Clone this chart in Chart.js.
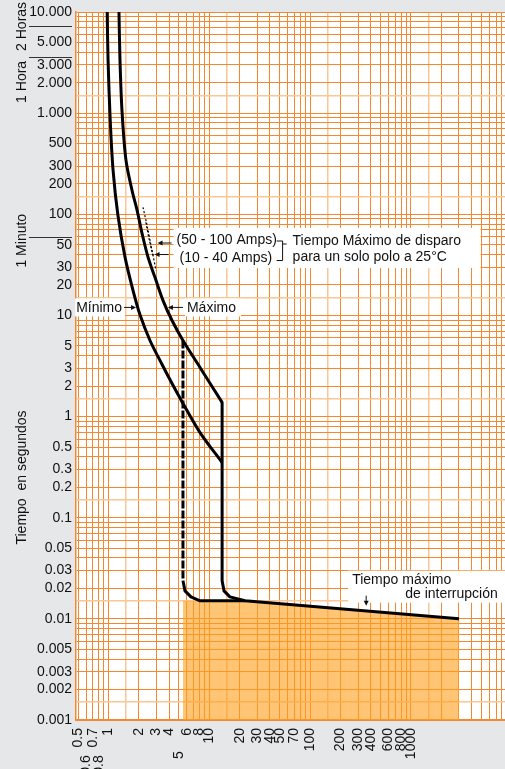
<!DOCTYPE html>
<html>
<head>
<meta charset="utf-8">
<script src="https://cdn.jsdelivr.net/npm/chart.js@4/dist/chart.umd.min.js"></script>
<style>
  html, body { margin: 0; padding: 0; background: #e6e7e9; }
</style>
</head>
<body>
<canvas id="curva" width="505" height="769"></canvas>
<script>
// Etiquetas de los ejes (Amperes x In / segundos)
const xTicks = [0.5, 0.6, 0.7, 0.8, 1, 2, 3, 4, 5, 6, 8, 10, 20, 30, 40, 50, 70, 100, 200, 300, 400, 600, 800, 1000];
const xTicksBajos = [0.6, 0.8, 5]; // van impresas mas abajo
const yTicks = [10000, 5000, 3000, 2000, 1000, 500, 300, 200, 100, 50, 30, 20, 10, 5, 3, 2, 1, 0.5, 0.3, 0.2, 0.1, 0.05, 0.03, 0.02, 0.01, 0.005, 0.003, 0.002, 0.001];
const yTicksTexto = ['10.000', '5.000', '3.000', '2.000', '1.000', '500', '300', '200', '100', '50', '30', '20', '10', '5', '3', '2', '1', '0.5', '0.3', '0.2', '0.1', '0.05', '0.03', '0.02', '0.01', '0.005', '0.003', '0.002', '0.001'];

// Curva minima
const minI = [0.97, 0.99, 1.04, 1.11, 1.24, 1.46, 1.75, 2.05, 2.58, 3.40, 4.27, 5.48, 8.09, 13.4];
const minT = [10000, 3350, 853, 273, 97.7, 37.5, 17.7, 10.2, 5.65, 3.27, 2.12, 1.35, 0.695, 0.351];

// Curva maxima (parte termica)
const maxI = [1.27, 1.30, 1.36, 1.49, 1.71, 1.92, 2.15, 2.47, 2.89, 3.47, 4.27, 5.48, 8.09, 13.4];
const maxT = [10000, 3350, 1070, 343, 173, 110, 64.9, 37.5, 23.8, 14.1, 8.91, 5.65, 3.06, 1.38];

// Curva maxima (disparo instantaneo + tiempo max. de interrupcion)
const colaI = [13.4, 13.4, 14.0, 16.0, 22.6, 3000];
const colaT = [1.38, 0.0238, 0.0189, 0.0165, 0.0151, 0.010];

// Disparo instantaneo minimo
const instI = [5.48, 5.48];
const instT = [5.65, 0.0238];
const instColaI = [5.48, 5.74, 6.58, 8.09, 22.6];
const instColaT = [0.0238, 0.0189, 0.0165, 0.0151, 0.0151];

// Tiempo maximo de disparo un solo polo
const amp50I = [2.20, 2.41, 2.64, 2.96];
const amp50T = [117, 77.9, 49.3, 27.9];
const amp10I = [2.35, 2.52, 2.76];
const amp10T = [83.4, 57.8, 39.3];

// Zona sombreada
const zonaI = [5.48, 22.6, 3000];
const zonaT = [0.0151, 0.0151, 0.010];

const naranja = 'rgb(244,136,48)';
const naranjaClaro = 'rgb(251,198,150)';
const fuente = "'Liberation Sans', Arial, Helvetica, sans-serif";

const pares = (xs, ys) => xs.map((x, i) => ({ x: x, y: ys[i] }));
const igual = (a, b) => Math.abs(Math.log10(a) - Math.log10(b)) < 1e-6;

// lineas de la cuadricula: 1, 1.5, 2, 3 ... 9 por decada
const pasos = [1, 1.5, 2, 3, 4, 5, 6, 7, 8, 9];
function cuadricula(min, max) {
    const out = [];
    for (let e = -4; e <= 4; e++) {
        pasos.forEach(m => {
            const v = parseFloat((m * Math.pow(10, e)).toPrecision(6));
            if (v >= min * 0.9999 && v <= max * 1.0001) out.push({ value: v });
        });
    }
    return out;
}
function esEntero(v) {
    const e = Math.floor(Math.log10(v) + 1e-9);
    const m = v / Math.pow(10, e);
    return Math.abs(m - Math.round(m)) < 1e-6;
}

const fondo = {
    id: 'fondo',
    beforeDraw(chart) {
        const { ctx, chartArea: a } = chart;
        ctx.save();
        ctx.fillStyle = '#e6e7e9';
        ctx.fillRect(0, 0, chart.width, chart.height);
        ctx.fillStyle = '#fff';
        ctx.fillRect(a.left, a.top, a.right - a.left, a.bottom - a.top);
        ctx.restore();
    }
};

function flecha(ctx, x1, y1, x2, y2) {
    const ang = Math.atan2(y2 - y1, x2 - x1);
    ctx.beginPath();
    ctx.moveTo(x1, y1);
    ctx.lineTo(x2 - 3 * Math.cos(ang), y2 - 3 * Math.sin(ang));
    ctx.stroke();
    ctx.beginPath();
    ctx.moveTo(x2, y2);
    ctx.lineTo(x2 - 5 * Math.cos(ang) + 2.5 * Math.sin(ang), y2 - 5 * Math.sin(ang) - 2.5 * Math.cos(ang));
    ctx.lineTo(x2 - 5 * Math.cos(ang) - 2.5 * Math.sin(ang), y2 - 5 * Math.sin(ang) + 2.5 * Math.cos(ang));
    ctx.closePath();
    ctx.fill();
}

function texto(ctx, t, x, y, align) {
    ctx.textAlign = align || 'left';
    ctx.textBaseline = 'middle';
    ctx.fillText(t, x, y);
}

function textoVertical(ctx, t, x, yc) {
    ctx.save();
    ctx.translate(x, yc);
    ctx.rotate(-Math.PI / 2);
    ctx.textAlign = 'center';
    ctx.textBaseline = 'alphabetic';
    ctx.fillText(t, 0, 0);
    ctx.restore();
}

const notas = {
    id: 'notas',
    beforeDatasetsDraw(chart) {
        const { ctx, scales } = chart;
        const pt = (a, b) => [scales.x.getPixelForValue(a), scales.y.getPixelForValue(b)];
        const [mx, my] = pt(1.92, 12);
        const [Mx, My] = pt(3.8, 12);
        const [ax, ay] = pt(3.0, 52);
        const [ix, iy] = pt(360, 0.0135);
        ctx.save();
        ctx.fillStyle = '#fff';
        ctx.fillRect(mx - 62, my - 9, 50, 18);
        ctx.fillRect(Mx + 18, My - 9, 56, 18);
        ctx.fillRect(ax + 17, ay - 15, 307, 40);
        ctx.fillRect(ix - 18, iy - 35, 200, 32);
        ctx.restore();
    },
    afterDatasetsDraw(chart) {
        const { ctx, scales } = chart;
        const pt = (a, b) => [scales.x.getPixelForValue(a), scales.y.getPixelForValue(b)];
        ctx.save();
        ctx.font = '14px ' + fuente;
        ctx.fillStyle = '#111';
        ctx.strokeStyle = '#111';
        ctx.lineWidth = 1;

        const [mx, my] = pt(1.92, 12);
        texto(ctx, 'Mínimo', mx - 15, my + 1, 'right');
        flecha(ctx, mx - 13, my, mx - 1, my);

        const [Mx, My] = pt(3.8, 12);
        texto(ctx, 'Máximo', Mx + 20, My + 1);
        flecha(ctx, Mx + 16, My, Mx + 1, My);

        const [ax, ay] = pt(3.0, 52);
        const [bx, by] = pt(2.8, 40);
        texto(ctx, '(50 - 100 Amps)', ax + 20, ay - 3);
        flecha(ctx, ax + 15, ay, ax + 1, ay);
        texto(ctx, '(10 - 40 Amps)', bx + 26, by + 4);
        flecha(ctx, bx + 15, by, bx + 1, by);
        const x0 = ax + 126;
        ctx.beginPath();
        ctx.moveTo(x0 - 6, ay - 2);
        ctx.lineTo(x0, ay - 2);
        ctx.lineTo(x0, by + 6);
        ctx.lineTo(x0 - 6, by + 6);
        ctx.moveTo(x0, ay + 1);
        ctx.lineTo(x0 + 4, ay + 1);
        ctx.stroke();
        texto(ctx, 'Tiempo Máximo de disparo', x0 + 10, ay - 2);
        texto(ctx, 'para un solo polo a 25°C', x0 + 10, by + 3);

        const [ix, iy] = pt(360, 0.0135);
        texto(ctx, 'Tiempo máximo', ix - 14, iy - 26);
        texto(ctx, 'de interrupción', ix + 39, iy - 12);
        flecha(ctx, ix, iy - 10, ix, iy);

        // margen izquierdo
        ctx.strokeStyle = '#333';
        const marcas = [7200, 3600, 60];
        marcas.forEach(s => {
            const y = Math.round(scales.y.getPixelForValue(s)) + 0.5;
            ctx.beginPath();
            ctx.moveTo(29, y);
            ctx.lineTo(72, y);
            ctx.stroke();
        });
        textoVertical(ctx, '2 Horas', 26, scales.y.getPixelForValue(7200));
        textoVertical(ctx, '1 Hora', 26, scales.y.getPixelForValue(3600) + 25);
        textoVertical(ctx, '1 Minuto', 26, scales.y.getPixelForValue(60) + 4);
        textoVertical(ctx, 'Tiempo  en segundos', 26, scales.y.getPixelForValue(0.25));
        ctx.restore();
    }
};

const negro = { borderColor: '#000', borderWidth: 3, tension: 0, fill: false, borderJoinStyle: 'round', borderCapStyle: 'butt' };

new Chart(document.getElementById('curva'), {
    type: 'line',
    data: {
        datasets: [
            Object.assign({ label: 'Mínimo', data: pares(minI, minT) }, negro, { tension: 0.3 }),
            Object.assign({ label: 'Máximo', data: pares(maxI, maxT) }, negro, { tension: 0.3 }),
            Object.assign({ label: 'Máximo instantáneo', data: pares(colaI, colaT) }, negro),
            Object.assign({ label: 'Instantáneo mínimo', data: pares(instI, instT) }, negro, { borderDash: [8, 2] }),
            Object.assign({ label: 'Instantáneo mínimo (cola)', data: pares(instColaI, instColaT) }, negro),
            Object.assign({ label: '50 - 100 Amps', data: pares(amp50I, amp50T) }, negro, { borderWidth: 1.2, borderDash: [2, 2], tension: 0.3 }),
            Object.assign({ label: '10 - 40 Amps', data: pares(amp10I, amp10T) }, negro, { borderWidth: 1.2, borderDash: [2, 2], tension: 0.3 }),
            {
                label: 'Tiempo máximo de interrupción',
                data: pares(zonaI, zonaT),
                borderWidth: 0,
                borderColor: 'rgba(0,0,0,0)',
                backgroundColor: 'rgba(255,160,30,0.62)',
                fill: 'start',
                tension: 0,
                order: 5
            }
        ]
    },
    options: {
        responsive: false,
        animation: false,
        devicePixelRatio: 1,
        layout: { padding: { top: 12, right: 0, left: 0, bottom: 0 } },
        elements: { point: { radius: 0, hoverRadius: 0 } },
        plugins: { legend: { display: false }, tooltip: { enabled: false } },
        scales: {
            x: {
                type: 'logarithmic',
                min: 0.476,
                max: 8580,
                afterBuildTicks: s => { s.ticks = cuadricula(0.476, 8580); },
                afterFit: s => { s.height = 49; s.paddingLeft = 0; s.paddingRight = 0; },
                ticks: {
                    autoSkip: false,
                    minRotation: 90,
                    maxRotation: 90,
                    padding: 8,
                    color: '#111',
                    font: { family: fuente, size: 14 },
                    callback: v => {
                        const t = xTicks.find(l => igual(l, v));
                        if (t === undefined) return '';
                        const bajo = xTicksBajos.some(l => igual(l, v));
                        return String(t) + (bajo ? (t < 1 ? '\u00A0'.repeat(7) : '\u00A0'.repeat(6)) : '');
                    }
                },
                grid: {
                    drawTicks: false,
                    color: c => esEntero(c.tick.value) ? naranja : naranjaClaro,
                    lineWidth: c => esEntero(c.tick.value) ? 1 : 1.5
                },
                border: { color: naranja, width: 1.5 }
            },
            y: {
                type: 'logarithmic',
                min: 0.001,
                max: 10000,
                afterBuildTicks: s => { s.ticks = cuadricula(0.001, 10000); },
                afterFit: s => { s.width = 76; s.paddingTop = 0; s.paddingBottom = 0; },
                ticks: {
                    autoSkip: false,
                    padding: 4,
                    color: '#111',
                    font: { family: fuente, size: 14 },
                    callback: v => {
                        const i = yTicks.findIndex(l => igual(l, v));
                        return i < 0 ? '' : yTicksTexto[i];
                    }
                },
                grid: {
                    drawTicks: false,
                    color: c => esEntero(c.tick.value) ? naranja : naranjaClaro,
                    lineWidth: c => esEntero(c.tick.value) ? 1 : 1.5
                },
                border: { color: naranja, width: 1.5 }
            }
        }
    },
    plugins: [fondo, notas]
});
</script>
</body>
</html>
